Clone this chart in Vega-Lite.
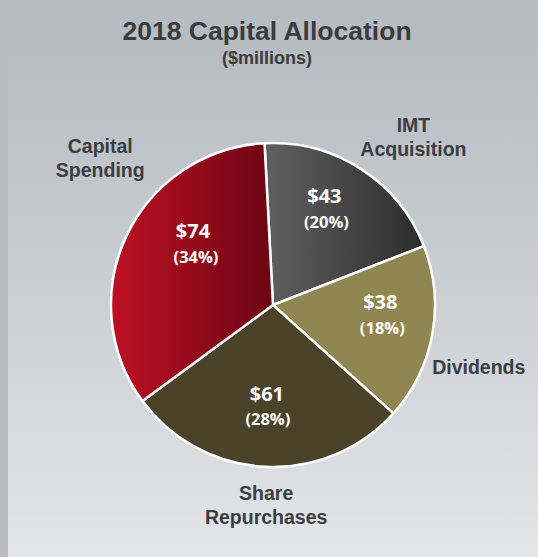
{
  "$schema": "https://vega.github.io/schema/vega-lite/v6.json",
  "autosize": {"type": "none"},
  "width": 530,
  "height": 504,
  "padding": {"left": 8, "top": 53, "right": 0, "bottom": 0},
  "background": "#b6bcc2",
  "view": {"stroke": null, "fill": {"gradient": "linear", "x1": 0, "y1": 0, "x2": 0, "y2": 1, "stops": [{"offset": 0, "color": "#b7bdc3"}, {"offset": 0.5, "color": "#ccd0d5"}, {"offset": 1, "color": "#e3e5e8"}]}},
  "config": {
    "text": {"baseline": "middle", "align": "center"}
  },
  "title": {
    "text": "2018 Capital Allocation",
    "subtitle": "($millions)",
    "anchor": "middle",
    "dx": -6,
    "offset": -15,
    "font": "Liberation Sans",
    "fontSize": 26.5,
    "fontWeight": "bold",
    "color": "#3c3c3c",
    "subtitleFont": "Liberation Sans",
    "subtitleFontSize": 18,
    "subtitleFontWeight": "bold",
    "subtitleColor": "#3c3c3c",
    "subtitlePadding": 5
  },
  "data": {
    "values": [
      {"category": "IMT Acquisition", "label": "IMT\nAcquisition", "value": 43, "amount": "$43", "pct": "(20%)", "order": 1},
      {"category": "Dividends", "label": "Dividends", "value": 38, "amount": "$38", "pct": "(18%)", "order": 2},
      {"category": "Share Repurchases", "label": "Share\nRepurchases", "value": 61, "amount": "$61", "pct": "(28%)", "order": 3},
      {"category": "Capital Spending", "label": "Capital\nSpending", "value": 74, "amount": "$74", "pct": "(34%)", "order": 4}
    ]
  },
  "encoding": {
    "theta": {"field": "value", "type": "quantitative", "stack": true, "scale": {"range": [-0.0524, 6.2308]}},
    "order": {"field": "order", "type": "quantitative"}
  },
  "layer": [
    {
      "mark": {"type": "arc", "radius": 162, "stroke": "white", "strokeWidth": 2.5},
      "encoding": {
        "color": {
          "condition": [
            {"test": "datum.category==='IMT Acquisition'", "value": {"gradient": "linear", "x1": 0, "y1": 0, "x2": 1, "y2": 0, "stops": [{"offset": 0, "color": "#606060"}, {"offset": 1, "color": "#2c2c2c"}]}},
            {"test": "datum.category==='Dividends'", "value": "#8f8651"},
            {"test": "datum.category==='Capital Spending'", "value": {"gradient": "linear", "x1": 0, "y1": 0, "x2": 1, "y2": 0, "stops": [{"offset": 0, "color": "#be1024"}, {"offset": 1, "color": "#6c0614"}]}}
          ],
          "value": "#4a4229"
        }
      }
    },
    {"mark": {"type": "text", "radius": 104, "dx": -5, "dy": -21, "font": "Open Sans", "fontWeight": "bold", "fontSize": 20, "color": "#ffffff"},
     "encoding": {"text": {"condition": {"test": "datum.category==='IMT Acquisition'", "field": "amount"}, "value": ""}}},
    {"mark": {"type": "text", "radius": 104, "dx": -3, "dy": 5, "font": "Open Sans", "fontWeight": "bold", "fontSize": 16.5, "color": "#ffffff"},
     "encoding": {"text": {"condition": {"test": "datum.category==='IMT Acquisition'", "field": "pct"}, "value": ""}}},
    {"mark": {"type": "text", "radius": 104, "dx": 5, "dy": -21, "font": "Open Sans", "fontWeight": "bold", "fontSize": 20, "color": "#ffffff"},
     "encoding": {"text": {"condition": {"test": "datum.category==='Dividends'", "field": "amount"}, "value": ""}}},
    {"mark": {"type": "text", "radius": 104, "dx": 7, "dy": 5, "font": "Open Sans", "fontWeight": "bold", "fontSize": 16.5, "color": "#ffffff"},
     "encoding": {"text": {"condition": {"test": "datum.category==='Dividends'", "field": "pct"}, "value": ""}}},
    {"mark": {"type": "text", "radius": 104, "dx": -1, "dy": -14, "font": "Open Sans", "fontWeight": "bold", "fontSize": 20, "color": "#ffffff"},
     "encoding": {"text": {"condition": {"test": "datum.category==='Share Repurchases'", "field": "amount"}, "value": ""}}},
    {"mark": {"type": "text", "radius": 104, "dx": 0, "dy": 11, "font": "Open Sans", "fontWeight": "bold", "fontSize": 16.5, "color": "#ffffff"},
     "encoding": {"text": {"condition": {"test": "datum.category==='Share Repurchases'", "field": "pct"}, "value": ""}}},
    {"mark": {"type": "text", "radius": 104, "dx": 14, "dy": -29, "font": "Open Sans", "fontWeight": "bold", "fontSize": 20, "color": "#ffffff"},
     "encoding": {"text": {"condition": {"test": "datum.category==='Capital Spending'", "field": "amount"}, "value": ""}}},
    {"mark": {"type": "text", "radius": 104, "dx": 17, "dy": -3, "font": "Open Sans", "fontWeight": "bold", "fontSize": 16.5, "color": "#ffffff"},
     "encoding": {"text": {"condition": {"test": "datum.category==='Capital Spending'", "field": "pct"}, "value": ""}}},
    {"mark": {"type": "text", "radius": 200, "dx": 32, "dy": -11, "font": "Liberation Sans", "fontWeight": "bold", "fontSize": 19.5, "lineHeight": 24, "lineBreak": "\n", "color": "#3a3d42"},
     "encoding": {"text": {"condition": {"test": "datum.category==='IMT Acquisition'", "field": "label"}, "value": ""}}},
    {"mark": {"type": "text", "radius": 200, "dx": 9, "dy": 27, "font": "Liberation Sans", "fontWeight": "bold", "fontSize": 19.5, "lineHeight": 24, "lineBreak": "\n", "color": "#3a3d42"},
     "encoding": {"text": {"condition": {"test": "datum.category==='Dividends'", "field": "label"}, "value": ""}}},
    {"mark": {"type": "text", "radius": 200, "dx": 3, "dy": -11, "font": "Liberation Sans", "fontWeight": "bold", "fontSize": 19.5, "lineHeight": 24, "lineBreak": "\n", "color": "#3a3d42"},
     "encoding": {"text": {"condition": {"test": "datum.category==='Share Repurchases'", "field": "label"}, "value": ""}}},
    {"mark": {"type": "text", "radius": 200, "dx": 8, "dy": -72, "font": "Liberation Sans", "fontWeight": "bold", "fontSize": 19.5, "lineHeight": 24, "lineBreak": "\n", "color": "#3a3d42"},
     "encoding": {"text": {"condition": {"test": "datum.category==='Capital Spending'", "field": "label"}, "value": ""}}}
  ]
}
